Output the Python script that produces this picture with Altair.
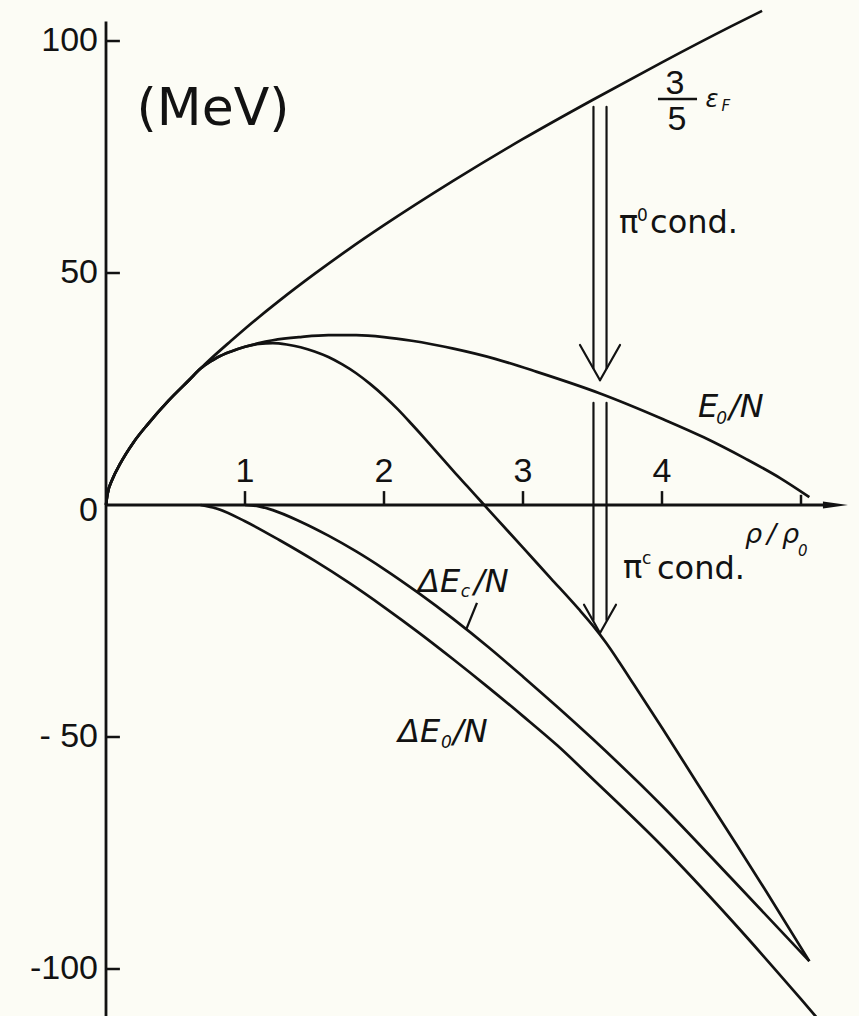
import altair as alt
import pandas as pd

# ---- curves: density rho/rho0 against energy per nucleon (MeV) ----
fermi_rho = [0, 0.01, 0.05, 0.1, 0.2, 0.3, 0.45, 0.6, 0.68, 0.75, 0.9, 1.0, 1.25, 1.5,
             1.75, 2.0, 2.5, 3.0, 3.5, 4.0, 4.5, 4.72]
fermi_E = [0, 2.2, 5.8, 8.8, 13.6, 17.4, 22.5, 27.0, 29.4, 31.4, 35.4, 38.0, 44.1, 49.8,
           55.2, 60.3, 69.9, 78.9, 87.3, 95.4, 103.2, 106.5]

e0_rho = [0, 0.01, 0.05, 0.1, 0.2, 0.3, 0.45, 0.6, 0.68, 0.75, 0.8, 0.9, 1.0, 1.1, 1.2,
          1.4, 1.6, 1.8, 2.0, 2.2, 2.5, 2.8, 3.1, 3.55, 4.0, 4.3, 4.6, 4.85, 5.06]
e0_E = [0, 2.2, 5.8, 8.8, 13.6, 17.4, 22.5, 27.0, 29.4, 30.9, 31.8, 33.1, 34.1, 34.9, 35.5,
        36.2, 36.6, 36.6, 36.2, 35.4, 33.7, 31.5, 28.7, 24.1, 18.6, 14.6, 10.0, 5.8, 1.7]

pic_rho = [0, 0.01, 0.05, 0.1, 0.2, 0.3, 0.45, 0.6, 0.68, 0.75, 0.8, 0.9, 1.0, 1.1, 1.2,
           1.3, 1.4, 1.5, 1.6, 1.7, 1.8, 1.9, 2.0, 2.1, 2.2, 2.3, 2.4, 2.5, 2.6, 2.7,
           2.8, 3.0, 3.2, 3.4, 3.5, 3.6, 3.7, 3.8, 4.0, 4.25, 4.5, 4.75, 5.06]
pic_E = [0, 2.2, 5.8, 8.8, 13.6, 17.4, 22.5, 27.0, 29.4, 30.9, 31.8, 33.1, 34.1, 34.7, 34.9,
         34.6, 34.0, 33.1, 31.9, 30.3, 28.4, 26.1, 23.5, 20.6, 17.4, 14.1, 10.7, 7.3, 4.0,
         0.7, -2.6, -9.2, -15.8, -22.4, -25.9, -29.8, -34.2, -38.8, -48.0, -59.8, -71.5,
         -83.3, -98.3]

dEc_rho = [1.0, 1.1, 1.2, 1.4, 1.6, 1.8, 2.0, 2.25, 2.5, 2.75, 3.0, 3.25, 3.5, 4.0, 4.5,
           5.06]
dEc_E = [0, -0.3, -1.1, -3.6, -6.6, -10.0, -13.8, -19.0, -24.6, -30.6, -37.0, -43.6,
         -50.4, -64.8, -80.5, -98.3]

dE0_rho = [0.68, 0.8, 1.0, 1.25, 1.5, 1.75, 2.0, 2.25, 2.5, 2.75, 3.0, 3.25, 3.5, 4.0,
           4.5, 5.0, 5.3]
dE0_E = [0, -0.8, -3.5, -7.6, -12.0, -16.8, -22.0, -27.5, -33.3, -39.3, -45.5, -51.9,
         -59.0, -73.5, -89.5, -106.5, -117.0]

# axis ticks
y_ticks = [100, 50, -50, -100]
y_tick_labels = ["100", "50", "0", "- 50", "-100"]
y_tick_label_pos = [100, 50, -1.3, -50, -100]
x_ticks = [1, 2, 3, 4]
x_tick_labels = ["1", "2", "3", "4"]

# condensation arrows at rho/rho0 = 3.55: (top, tip) in MeV
arrow_rho = 3.554
pi0_arrow = (85.8, 26.9)
pic_arrow = (22.0, -27.6)

INK = "#121212"
BG = "#fcfcf5"
LABEL_FONT = "DejaVu Sans"
NUM_FONT = "Liberation Sans Narrow, Liberation Sans, sans-serif"

X = alt.Scale(domain=[-0.7626, 5.4173], nice=False, zero=False)
Y = alt.Scale(domain=[-110.13, 108.84], nice=False, zero=False)


def enc_xy(xf="x", yf="y"):
    return dict(x=alt.X(f"{xf}:Q", scale=X, axis=None),
                y=alt.Y(f"{yf}:Q", scale=Y, axis=None))


# ---- curve layer ----
rows = []
for name, rr, ee in [("fermi", fermi_rho, fermi_E), ("E0", e0_rho, e0_E),
                     ("pic", pic_rho, pic_E), ("dEc", dEc_rho, dEc_E),
                     ("dE0", dE0_rho, dE0_E)]:
    for i, (r, e) in enumerate(zip(rr, ee)):
        rows.append({"series": name, "i": i, "x": r, "y": e})
curves = pd.DataFrame(rows)

curve_layer = alt.Chart(curves).mark_line(
    interpolate="monotone", color=INK, strokeWidth=2.7, clip=True
).encode(**enc_xy(), detail="series:N", order="i:Q")


# ---- straight segments: axes, ticks, arrows, fraction bar, leader ----
def seg_layer(segs, width, cap="butt"):
    df = pd.DataFrame(segs, columns=["x", "y", "x2", "y2"])
    return alt.Chart(df).mark_rule(color=INK, strokeWidth=width, strokeCap=cap).encode(
        **enc_xy(), x2="x2:Q", y2="y2:Q")


axis_segs = [
    (0, 104.2, 0, -110.13),      # energy axis
    (0, 0, 5.18, 0),             # density axis
]
tick_segs = [(0, t, 0.1, t) for t in y_ticks] + [(t, 0, t, 3.0) for t in x_ticks] + [(5, 0, 5, 2.2)]

half_gap = 0.047


def arrow(top, tip, arm_dx, arm_dy, shaft_end):
    return [
        (arrow_rho - half_gap, top, arrow_rho - half_gap, shaft_end),
        (arrow_rho + half_gap, top, arrow_rho + half_gap, shaft_end),
        (arrow_rho - arm_dx, tip + arm_dy, arrow_rho, tip),
        (arrow_rho + arm_dx, tip + arm_dy, arrow_rho, tip),
    ]


arrow_segs = arrow(pi0_arrow[0], pi0_arrow[1], 0.144, 7.6, pi0_arrow[1] + 2.6) + \
    arrow(pic_arrow[0], pic_arrow[1], 0.115, 6.1, pic_arrow[1] + 2.8)

misc_segs = [
    (3.971, 87.5, 4.252, 87.5),      # fraction bar of 3/5
    (2.669, -21.1, 2.590, -26.9),    # leader to the Delta E_c curve
]

axis_head = alt.Chart(pd.DataFrame({"x": [5.248], "y": [0]})).mark_point(
    shape="M-1,-0.28L1,0L-1,0.28Z", size=625, filled=True, color=INK, opacity=1
).encode(**enc_xy())


# ---- text ----
def text_layer(items, size, style="normal", font=LABEL_FONT, align="left",
               baseline="alphabetic", weight="normal"):
    df = pd.DataFrame(items, columns=["x", "y", "t"])
    return alt.Chart(df).mark_text(
        fontSize=size, fontStyle=style, font=font, align=align, baseline=baseline,
        fontWeight=weight, color=INK
    ).encode(**enc_xy(), text="t:N")


y_labels = text_layer(
    [(-0.0576, p, s) for p, s in zip(y_tick_label_pos, y_tick_labels)],
    34, font=NUM_FONT, align="right", baseline="middle")
x_labels = text_layer(
    [(t, 7.1, s) for t, s in zip(x_ticks, x_tick_labels)],
    34, font=NUM_FONT, align="center", baseline="middle")

unit = text_layer([(0.77, 81.9, "(MeV)")], 52, align="center")

frac = text_layer([(4.094, 90.7, "3"), (4.108, 83.0, "5")], 34, font=NUM_FONT,
                  align="center", baseline="middle")
eps = text_layer([(4.36, 87.3, "ε")], 24, style="italic", align="center", baseline="middle")
eps_sub = text_layer([(4.46, 86.0, "F")], 15, style="italic", align="center", baseline="middle")

cond_main = text_layer([(3.691, 58.6, "π"), (3.914, 58.6, "cond."),
                        (3.719, -15.7, "π"), (3.964, -15.9, "cond.")], 32)
cond_sup = text_layer([(3.82, 61.2, "0"), (3.856, -12.7, "c")], 17)

ital = text_layer([(4.259, 19.0, "E"), (4.482, 19.0, "/N"),
                   (2.245, -18.75, "ΔE"), (2.647, -18.75, "/N"),
                   (2.101, -51.1, "ΔE"), (2.497, -51.1, "/N")], 32, style="italic")
ital_sub = text_layer([(4.39, 17.5, "0"), (2.553, -19.8, "c"), (2.41, -52.4, "0")],
                      17, style="italic")

rho_lab = text_layer([(4.597, -8.2, "ρ"), (4.755, -8.2, "/"), (4.863, -8.2, "ρ")],
                     27, style="italic")
rho_sub = text_layer([(4.978, -11.0, "0")], 15, style="italic")

chart = alt.layer(
    curve_layer,
    seg_layer(axis_segs, 2.8),
    seg_layer(tick_segs, 2.5),
    seg_layer(arrow_segs, 2.2, cap="round"),
    seg_layer(misc_segs, 2.3),
    axis_head,
    y_labels, x_labels, unit, frac, eps, eps_sub, cond_main, cond_sup,
    ital, ital_sub, rho_lab, rho_sub,
).properties(
    width=859, height=1016, background=BG, padding=0,
    autosize=alt.AutoSizeParams(type="none"),
).configure_view(stroke=None)

chart.save("out.html", embed_options={"renderer": "svg", "actions": False})
